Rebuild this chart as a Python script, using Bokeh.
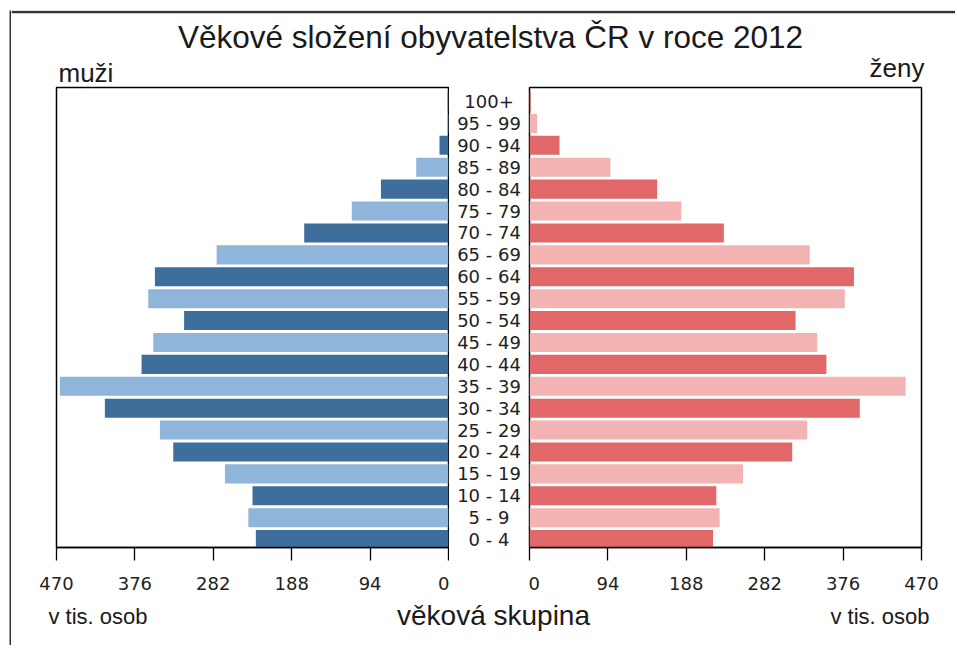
from bokeh.plotting import figure
from bokeh.layouts import column, row
from bokeh.models import Range1d, FixedTicker, ColumnDataSource
from bokeh.core.properties import value
from bokeh.embed import file_html
from bokeh.resources import INLINE

# ---------------- data ----------------
age_groups = ["0 - 4", "5 - 9", "10 - 14", "15 - 19", "20 - 24", "25 - 29", "30 - 34",
              "35 - 39", "40 - 44", "45 - 49", "50 - 54", "55 - 59", "60 - 64", "65 - 69",
              "70 - 74", "75 - 79", "80 - 84", "85 - 89", "90 - 94", "95 - 99", "100+"]
men = [231, 240, 235, 268, 330, 346, 412, 466, 368, 354, 317, 360, 352, 278,
       173, 116, 81, 38.7, 10.8, 1.5, 1]
women = [220, 228, 224, 256, 315, 333, 396, 451, 356, 345, 319, 378, 389, 336,
         233, 182, 153, 97, 36, 9, 1.5]
tick_values = [0, 94, 188, 282, 376, 470]

title_text = "Věkové složení obyvatelstva ČR v roce 2012"
men_label = "muži"
women_label = "ženy"
unit_label = "v tis. osob"
axis_title = "věková skupina"

# ---------------- styles ----------------
MEN_DARK, MEN_LIGHT = "#3e6e9c", "#8fb6da"
WOMEN_DARK, WOMEN_LIGHT = "#e16769", "#f4b3b3"
SANS = value("Liberation Sans")
TICKF = "DejaVu Sans"
TXT = "#1a1a1a"
BORDER = "#333333"

idx = list(range(len(age_groups)))
src = ColumnDataSource(dict(
    y=idx, age=age_groups, men=men, women=women,
    mcolor=[MEN_DARK if i % 2 == 0 else MEN_LIGHT for i in idx],
    wcolor=[WOMEN_DARK if i % 2 == 0 else WOMEN_LIGHT for i in idx],
))

y_rng = Range1d(-0.36, 20.64)
TOP_H = 76
BOT_B = 53
ROW_H = 1 + 460 + BOT_B
BOT_H = 45
FULL_W = 936
TOP_W = 944


def bare(w, h, xr, yr, fill="white"):
    f = figure(width=w, height=h, x_range=xr, y_range=yr,
               x_axis_location=None, y_axis_location=None, output_backend="svg",
               toolbar_location=None, min_border=0, min_border_left=0, min_border_right=0,
               min_border_top=0, min_border_bottom=0,
               background_fill_color=fill, border_fill_color=fill)
    f.grid.visible = False
    f.outline_line_color = None
    return f


def style_panel(p):
    p.grid.visible = False
    p.outline_line_color = "black"
    p.outline_line_width = 1.5
    ax = p.xaxis[0]
    ax.ticker = FixedTicker(ticks=tick_values)
    ax.major_tick_out = 13
    ax.major_tick_in = 0
    ax.minor_tick_out = 0
    ax.minor_tick_in = 0
    ax.axis_line_color = "black"
    ax.axis_line_width = 1.3
    ax.major_tick_line_color = "black"
    ax.major_tick_line_width = 1.3
    ax.major_label_text_font = TICKF
    ax.major_label_text_font_size = "18px"
    ax.major_label_text_color = "#222222"
    ax.major_label_standoff = 16


lf = figure(width=438, height=ROW_H, x_range=Range1d(470, 0), y_range=y_rng,
            y_axis_location=None, output_backend="svg", toolbar_location=None,
            min_border_left=45, min_border_right=1, min_border_top=1, min_border_bottom=BOT_B)
lf.hbar(y="y", left=0, right="men", height=0.87, fill_color="mcolor", line_color=None, source=src)
style_panel(lf)

mf = figure(width=79, height=ROW_H, x_range=Range1d(0, 1), y_range=y_rng,
            x_axis_location=None, y_axis_location=None, output_backend="svg",
            toolbar_location=None, min_border_left=0, min_border_right=0,
            min_border_top=1, min_border_bottom=BOT_B)
mf.grid.visible = False
mf.outline_line_color = None
mf.text(x=0.5, y="y", text="age", source=src, text_align="center", text_baseline="middle",
        text_font=value(TICKF), text_font_size="18px", text_color="#222222")

rf = figure(width=419, height=ROW_H, x_range=Range1d(0, 470), y_range=y_rng,
            y_axis_location=None, output_backend="svg", toolbar_location=None,
            min_border_left=1, min_border_right=26, min_border_top=1, min_border_bottom=BOT_B)
rf.hbar(y="y", left=0, right="women", height=0.87, fill_color="wcolor", line_color=None, source=src)
style_panel(rf)

tf = bare(TOP_W, TOP_H, Range1d(0, TOP_W), Range1d(0, TOP_H))
# top edge line of the whole picture (a horizontal segment near the top of the band)
tf.segment(x0=[0], x1=[TOP_W], y0=[TOP_H - 1.5], y1=[TOP_H - 1.5], line_color=BORDER, line_width=2.5)
tf.text(x=[479], y=[TOP_H - 26], text=[title_text], text_align="center", text_baseline="middle",
        text_font=SANS, text_font_size="31.5px", text_color=TXT)
tf.text(x=[47], y=[TOP_H - 62], text=[men_label], text_align="left", text_baseline="middle",
        text_font=SANS, text_font_size="26px", text_color=TXT)
tf.text(x=[913], y=[TOP_H - 57], text=[women_label], text_align="right", text_baseline="middle",
        text_font=SANS, text_font_size="26px", text_color=TXT)

bf = bare(FULL_W, BOT_H, Range1d(0, FULL_W), Range1d(BOT_H, 0))
bf.text(x=[37], y=[16], text=[unit_label], text_align="left", text_baseline="middle",
        text_font=SANS, text_font_size="22px", text_color=TXT)
bf.text(x=[918], y=[16], text=[unit_label], text_align="right", text_baseline="middle",
        text_font=SANS, text_font_size="22px", text_color=TXT)
bf.text(x=[482], y=[15], text=[axis_title], text_align="center", text_baseline="middle",
        text_font=SANS, text_font_size="28px", text_color=TXT)

# left edge line of the whole picture
left_strip = bare(2, TOP_H + ROW_H + BOT_H, Range1d(0, 1), Range1d(0, 1), fill=BORDER)

content = column(tf, row(lf, mf, rf), bf)
layout = row(left_strip, content, margin=(10, 0, 0, 9))

open("out.html", "w").write(file_html(layout, INLINE))
